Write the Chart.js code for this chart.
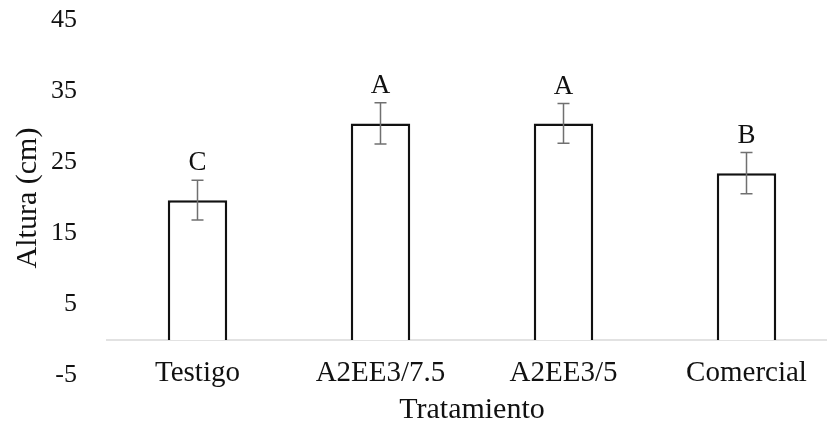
<!DOCTYPE html>
<html>
<head>
<meta charset="utf-8">
<script src="https://cdn.jsdelivr.net/npm/chart.js@4/dist/chart.umd.min.js"></script>
<style>
  html, body { margin: 0; padding: 0; background: #fff; overflow: hidden; width: 827px; height: 427px; }
  canvas { display: block; }
</style>
</head>
<body>
<canvas id="c" width="840" height="427"></canvas>
<script>
// Altura de plantas por tratamiento (media ± error) y letras de agrupación
const categories = ['Testigo', 'A2EE3/7.5', 'A2EE3/5', 'Comercial'];
const alturaMedia = [19.7, 30.5, 30.5, 23.5];
const errorBarra = [2.8, 2.9, 2.8, 2.9];
const letrasGrupo = ['C', 'A', 'A', 'B'];
const yTicks = [-5, 5, 15, 25, 35, 45];

const SERIF = '"Liberation Serif", "Times New Roman", serif';

// Línea horizontal del eje en y = 0
const zeroLine = {
  id: 'zeroLine',
  beforeDatasetsDraw(chart) {
    const { ctx, chartArea, scales } = chart;
    const y0 = scales.y.getPixelForValue(0);
    ctx.save();
    ctx.strokeStyle = '#d9d9d9';
    ctx.lineWidth = 1.5;
    ctx.beginPath();
    ctx.moveTo(chartArea.left, y0);
    ctx.lineTo(chartArea.right, y0);
    ctx.stroke();
    ctx.restore();
  }
};

// Barras de error y letras de significancia
const errorsAndLetters = {
  id: 'errorsAndLetters',
  afterDatasetsDraw(chart) {
    const { ctx, scales } = chart;
    const meta = chart.getDatasetMeta(0);
    ctx.save();
    meta.data.forEach((bar, i) => {
      const x = bar.x;
      const yTop = scales.y.getPixelForValue(alturaMedia[i] + errorBarra[i]);
      const yBot = scales.y.getPixelForValue(alturaMedia[i] - errorBarra[i]);
      const cap = 6;
      ctx.strokeStyle = '#707070';
      ctx.lineWidth = 1.5;
      ctx.beginPath();
      ctx.moveTo(x, yTop); ctx.lineTo(x, yBot);
      ctx.moveTo(x - cap, yTop); ctx.lineTo(x + cap, yTop);
      ctx.moveTo(x - cap, yBot); ctx.lineTo(x + cap, yBot);
      ctx.stroke();

      ctx.fillStyle = '#111';
      ctx.font = '27px ' + SERIF;
      ctx.textAlign = 'center';
      ctx.textBaseline = 'alphabetic';
      ctx.fillText(letrasGrupo[i], x, yTop - 10);
    });
    ctx.restore();
  }
};

new Chart(document.getElementById('c'), {
  type: 'bar',
  data: {
    labels: categories,
    datasets: [{
      data: alturaMedia,
      backgroundColor: '#ffffff',
      borderColor: '#111111',
      borderWidth: 2.5,
      categoryPercentage: 1,
      barPercentage: 0.325
    }]
  },
  options: {
    responsive: false,
    animation: false,
    devicePixelRatio: 1,
    layout: { padding: { top: 20.5, right: 2, left: 0, bottom: 51.5 } },
    plugins: { legend: { display: false }, tooltip: { enabled: false } },
    scales: {
      x: {
        position: { y: 0 },
        grid: { display: false, drawTicks: false },
        border: { display: false },
        ticks: { color: '#111', font: { family: SERIF, size: 29 }, padding: 16, maxRotation: 0 },
        title: { display: true, text: 'Tratamiento', color: '#111', font: { family: SERIF, size: 30 }, padding: { top: 0, bottom: 1 } },
        afterFit(scale) { scale.height = 89; }
      },
      y: {
        min: -5,
        max: 45,
        afterBuildTicks(scale) { scale.ticks = yTicks.map(v => ({ value: v })); },
        grid: { display: false, drawTicks: false },
        border: { display: false },
        ticks: { color: '#111', font: { family: SERIF, size: 26 }, padding: 29 },
        title: { display: true, text: 'Altura (cm)', color: '#111', font: { family: SERIF, size: 30 }, padding: { top: 10, bottom: 0 } },
        afterFit(scale) { scale.width = 106; scale.paddingTop = 0; scale.paddingBottom = 0; }
      }
    }
  },
  plugins: [zeroLine, errorsAndLetters]
});
</script>
</body>
</html>
